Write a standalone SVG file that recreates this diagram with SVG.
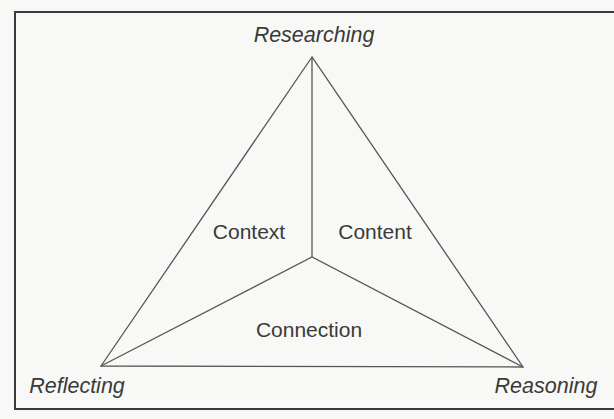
<svg xmlns="http://www.w3.org/2000/svg" width="614" height="419" viewBox="0 0 614 419">
  <style>
    .lbl { font-family: "Liberation Sans", Arial, sans-serif; font-size: 21px; fill: #3a3a3a; text-anchor: middle; }
    .it { font-style: italic; font-size: 21.5px; }
    .edge { stroke: #555; stroke-width: 1.3; fill: none; stroke-linejoin: miter; }
    .frame { stroke: #3a3a3a; stroke-width: 2; fill: none; }
  </style>
  <rect x="0" y="0" width="614" height="419" fill="#f8f8f6"/>
  <rect id="frame" class="frame" x="15" y="12" width="610" height="397"/>
  <g id="connectors">
    <polygon class="edge" points="312,57 101,366 523,367"/>
    <polyline class="edge" points="312,57 312,257"/>
    <polyline class="edge" points="101,366 312,257 523,367"/>
  </g>
  <g id="researching"><text class="lbl it" x="314" y="42">Researching</text></g>
  <g id="reflecting"><text class="lbl it" x="77" y="393">Reflecting</text></g>
  <g id="reasoning"><text class="lbl it" x="546" y="393">Reasoning</text></g>
  <g id="context"><text class="lbl" x="249" y="239">Context</text></g>
  <g id="content"><text class="lbl" x="375" y="239">Content</text></g>
  <g id="connection"><text class="lbl" x="309" y="337">Connection</text></g>
</svg>
